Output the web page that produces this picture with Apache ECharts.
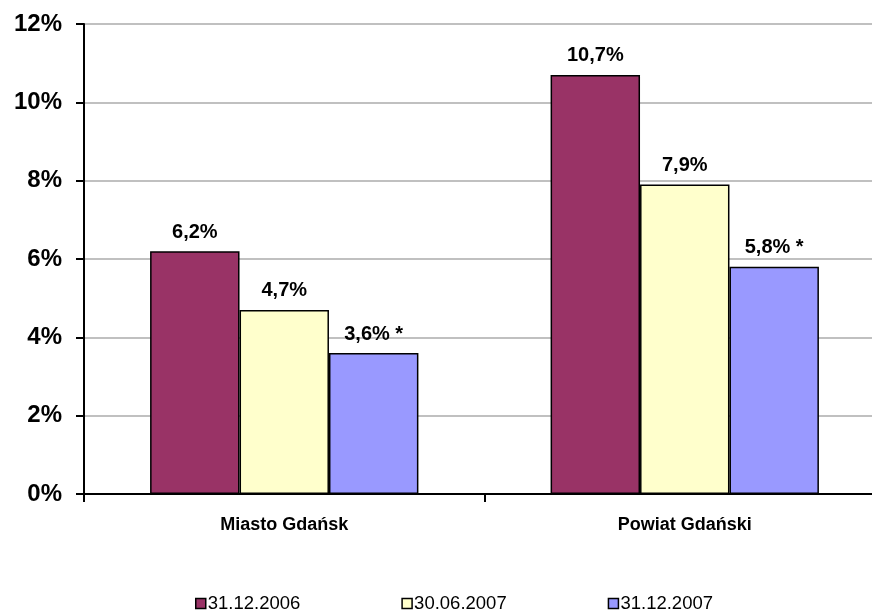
<!DOCTYPE html>
<html>
<head>
<meta charset="utf-8">
<script src="https://cdn.jsdelivr.net/npm/echarts@6/dist/echarts.min.js"></script>
</head>
<body style="margin:0;background:#fff">
<div id="main" style="width:872px;height:611px"></div>
<script>
var categories = ['Miasto Gdańsk', 'Powiat Gdański'];
var seriesNames = ['31.12.2006', '30.06.2007', '31.12.2007'];
var s2006 = [6.2, 10.7];
var s2007a = [4.7, 7.9];
var s2007b = [3.6, 5.8];
var labelSuffix = ['', '', ' *'];
var colors = ['#993366', '#FFFFCC', '#9999FF'];

var chart = echarts.init(document.getElementById('main'));
var font = 'Arial, "Liberation Sans", sans-serif';

function makeSeries(idx, data) {
  return {
    name: seriesNames[idx],
    type: 'bar',
    data: data,
    barGap: 0,
    barCategoryGap: '33%',
    itemStyle: { color: colors[idx], borderColor: '#000', borderWidth: 1.5 },
    label: {
      show: true,
      position: 'top',
      distance: 9,
      fontFamily: font,
      fontWeight: 'bold',
      fontSize: 20,
      color: '#000',
      formatter: function (p) {
        return p.value.toFixed(1).replace('.', ',') + '%' + labelSuffix[idx];
      }
    }
  };
}

chart.setOption({
  animation: false,
  grid: { left: 84, width: 801, top: 24, bottom: 117, outerBoundsMode: 'none' },
  legend: {
    data: seriesNames,
    left: 190,
    top: 589,
    icon: 'rect',
    itemWidth: 10,
    itemHeight: 10,
    itemGap: 101,
    itemStyle: { borderColor: '#000', borderWidth: 1.5 },
    textStyle: { fontFamily: font, fontSize: 18.5, color: '#000', padding: [0, 0, 0, -3] }
  },
  xAxis: {
    type: 'category',
    data: categories,
    axisLine: { lineStyle: { color: '#000', width: 2 } },
    axisTick: { show: true, length: 8, lineStyle: { color: '#000', width: 2 } },
    axisLabel: { fontFamily: font, fontWeight: 'bold', fontSize: 18, color: '#000', margin: 22 }
  },
  yAxis: {
    type: 'value',
    min: 0,
    max: 12,
    interval: 2,
    axisLine: { show: true, lineStyle: { color: '#000', width: 2 } },
    axisTick: { show: true, length: 8, lineStyle: { color: '#000', width: 2 } },
    splitLine: { lineStyle: { color: '#c0c0c0', width: 2 } },
    axisLabel: { fontFamily: font, fontWeight: 'bold', fontSize: 24, color: '#000', margin: 22, formatter: '{value}%' }
  },
  series: [makeSeries(0, s2006), makeSeries(1, s2007a), makeSeries(2, s2007b)]
});
</script>
</body>
</html>
